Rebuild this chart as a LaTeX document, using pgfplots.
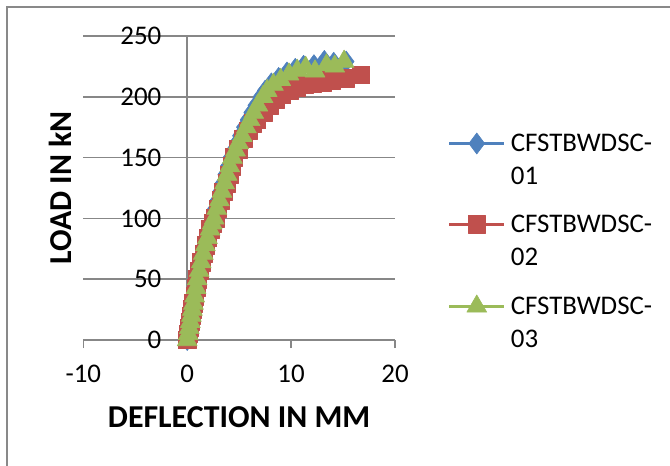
\documentclass[border=0pt]{standalone}
\usepackage{pgfplots}
\pgfplotsset{compat=1.18}
\usepackage{pgfplotstable}
\usepackage{fontspec}
\setmainfont{Carlito}
\definecolor{s1}{HTML}{4F81BD}
\definecolor{s2}{HTML}{C0504D}
\definecolor{s3}{HTML}{9BBB59}
\definecolor{gridgray}{HTML}{878787}
\definecolor{framegray}{HTML}{898989}

\pgfplotstableread{
x y
0 0
0.1 5
0.2 10
0.3 15
0.4 20
0.5 25
0.6 30
0.7 36
0.82 43
0.93 50
1.1 57
1.3 64
1.5 71
1.7 78
1.9 84
2.12 91
2.32 96
2.5 100
2.72 108
2.96 115
3.2 122
3.45 129
3.7 136
3.95 143
4.2 150
4.5 156
4.8 162
5.12 168
5.5 175
5.85 181
6.2 187
6.6 193
7.1 200
7.5 205
8.1 211
8.8 215.5
9.6 220
10.4 223
11.2 225.5
12.2 226
13.2 229.5
14.1 228
15.3 229
}\seriesA

\pgfplotstableread{
x y
0 0
0.1 5
0.2 10
0.3 15
0.4 20
0.5 25
0.6 30
0.72 36
0.85 43
0.98 50
1.18 57
1.38 64
1.6 71
1.8 78
2.0 84
2.25 91
2.45 96
2.7 100
2.95 108
3.25 115
3.5 122
3.8 129
4.05 136
4.3 143
4.5 150
4.9 157
5.4 165.5
5.9 172
6.3 178
6.7 181
7.3 187
7.9 193
8.5 198
9.1 201.5
9.8 205
10.5 208
11.3 210
12.1 211
13.0 212
13.85 213.5
15.2 215
16.7 218
}\seriesB

\pgfplotstableread{
x y
0 0
0.1 5
0.2 10
0.3 15
0.4 20
0.5 25
0.6 30
0.72 36
0.85 43
0.96 50
1.15 57
1.35 64
1.55 71
1.75 78
1.95 84
2.2 91
2.4 96
2.6 100
2.85 108
3.1 115
3.35 122
3.6 129
3.85 136
4.1 143
4.35 150
4.65 156
4.95 162
5.3 168
5.7 175
6.05 181
6.4 187
6.8 193
7.3 200
7.7 205
8.3 210
9.0 214
9.8 218.5
10.6 221.5
11.4 224
12.3 221
13.4 226
14.2 225
15.1 229
}\seriesC

\begin{document}
\begin{tikzpicture}
\path[use as bounding box] (0,0) rectangle (670bp,466bp);
\draw[framegray, line width=2bp] (6.5bp,-2bp) -- (6.5bp,459bp) -- (672bp,459bp);
\begin{axis}[
  at={(83.3bp,126bp)}, anchor=south west,
  scale only axis, width=311.7bp, height=304bp,
  xmin=-10, xmax=20, ymin=0, ymax=250,
  xtick={-10,0,10,20}, ytick={0,50,...,250},
  axis x line=bottom, axis y line=middle,
  axis line style={-, gridgray, line width=1.5bp},
  hide obscured x ticks=false, hide obscured y ticks=false,
  tick align=outside, major tick length=8bp,
  tick style={gridgray, line width=1.5bp},
  ymajorgrids, grid style={gridgray, line width=1.5bp},
  clip=false,
  /pgf/number format/assume math mode=true,
  ticklabel style={font=\fontsize{27}{32}\selectfont, inner sep=0pt},
  xticklabel style={anchor=base, yshift=-34bp},
  yticklabel style={anchor=east, xshift=-17.7bp},
  xlabel={\textbf{DEFLECTION IN MM}},
  ylabel={\textbf{LOAD IN kN}},
  xlabel style={at={(axis description cs:0.5,0)}, anchor=base, yshift=-87.3bp, font=\fontsize{32}{38}\selectfont, inner sep=0pt},
  ylabel style={at={(axis description cs:0,0.5)}, anchor=base, rotate=90, yshift=11.6bp, font=\fontsize{32}{38}\selectfont, inner sep=0pt},
  legend style={at={(axis description cs:1.169,0.681)}, anchor=north west, draw=none, fill=none, inner sep=0pt, outer sep=0pt, row sep=61bp, column sep=5bp, font=\fontsize{27}{32}\selectfont, nodes={inner sep=0pt}},
  legend cell align=left,
  legend image code/.code={\draw[mark repeat=2,mark phase=2] plot coordinates {(0bp,0bp) (27.5bp,0bp) (55bp,0bp)};},
]
\addplot[s1, line width=3.2bp, line join=round, mark=diamond*, mark size=10.5bp, mark options={solid, fill=s1, line width=0.6bp}] table {\seriesA};
\addlegendentry{\rlap{\raisebox{-33bp}[0pt][0pt]{01}}CFSTBWDSC-}
\addplot[s2, line width=3.2bp, line join=round, mark=square*, mark size=8.8bp, mark options={solid, fill=s2, line width=0.6bp}] table {\seriesB};
\addlegendentry{\rlap{\raisebox{-33bp}[0pt][0pt]{02}}CFSTBWDSC-}
\addplot[s3, line width=3.2bp, line join=round, mark=triangle*, mark size=11.5bp, mark options={solid, fill=s3, line width=0.6bp}] table {\seriesC};
\addlegendentry{\rlap{\raisebox{-33bp}[0pt][0pt]{03}}CFSTBWDSC-}
\end{axis}
\end{tikzpicture}
\end{document}
